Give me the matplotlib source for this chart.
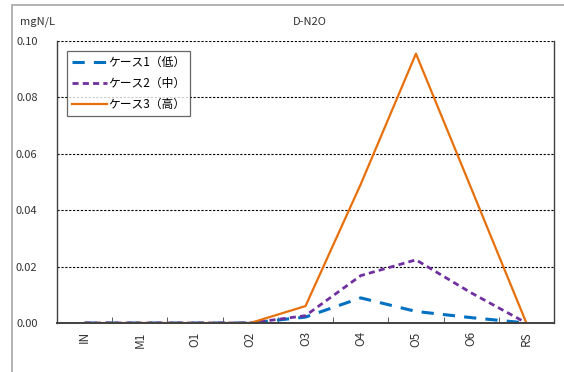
import matplotlib.pyplot as plt
from matplotlib.patches import Rectangle

plt.rcParams['font.family'] = ['Noto Sans CJK JP', 'DejaVu Sans']

stations = ["IN", "M1", "O1", "O2", "O3", "O4", "O5", "O6", "RS"]
case1_low = [0, 0, 0, 0, 0.0021, 0.0089, 0.0041, 0.0019, 0]
case2_mid = [0, 0, 0, 0, 0.0026, 0.0168, 0.0224, 0.0107, 0]
case3_high = [0, 0, 0, 0, 0.0060, 0.0492, 0.0955, 0.0478, 0]
yticks = [0.00, 0.02, 0.04, 0.06, 0.08, 0.10]

fig = plt.figure(figsize=(5.64, 3.72), dpi=100)
ax = fig.add_axes([57 / 564, 1 - 323 / 372, 497 / 564, 282 / 372])

# outer chart frame (only left and top edges fall inside the image)
fig.patches.append(Rectangle((12 / 564, -0.1), 1.2, 1 - 5 / 372 + 0.1,
                             transform=fig.transFigure, fill=False,
                             edgecolor='#a6a6a6', linewidth=1.2, zorder=0))

x = list(range(len(stations)))
ax.plot(x, case1_low, color='#0070C0', linewidth=2.2, linestyle=(0, (4, 3)),
        label='ケース1（低）')
ax.plot(x, case2_mid, color='#7030A0', linewidth=2.0, linestyle=(0, (2.2, 1.5)),
        label='ケース2（中）')
ax.plot(x, case3_high, color='#E8700C', linewidth=1.6, label='ケース3（高）')

ax.set_xlim(-0.5, len(stations) - 0.5)
ax.set_ylim(0, 0.10)
ax.set_yticks(yticks)
ax.set_yticklabels([f"{v:.2f}" for v in yticks], fontsize=8, color='#333333')
ax.tick_params(axis='y', length=0, pad=14)

ax.set_xticks(x)
ax.set_xticklabels(stations, rotation=90, fontsize=8.5, color='#333333')
ax.set_xticks([i + 0.5 for i in x[:-1]], minor=True)
ax.tick_params(axis='x', which='major', length=0, pad=6)
ax.tick_params(axis='x', which='minor', direction='in', length=4, color='#444444')

for v in yticks[1:]:
    ax.axhline(v, color='black', linewidth=0.8, linestyle=(0, (2, 1.5)), zorder=0)

ax.spines['top'].set_visible(False)
for side in ['left', 'right', 'bottom']:
    ax.spines[side].set_color('#404040')
    ax.spines[side].set_linewidth(1.0)
ax.spines['bottom'].set_linewidth(1.4)

fig.text(20 / 564, 1 - 22 / 372, 'mgN/L', fontsize=8, va='center', color='#333333')
fig.text(310 / 564, 1 - 22 / 372, 'D-N2O', fontsize=8, va='center', ha='center',
         color='#333333')

leg = ax.legend(loc='upper left', bbox_to_anchor=(10 / 497, 1 - 10 / 282),
                fontsize=8.5, frameon=True, fancybox=False, handlelength=3.0,
                handletextpad=0.1, borderpad=0.4, labelspacing=0.7,
                borderaxespad=0)
leg.get_frame().set_edgecolor('#404040')
leg.get_frame().set_linewidth(0.9)

fig.savefig('out.png', dpi=100)
